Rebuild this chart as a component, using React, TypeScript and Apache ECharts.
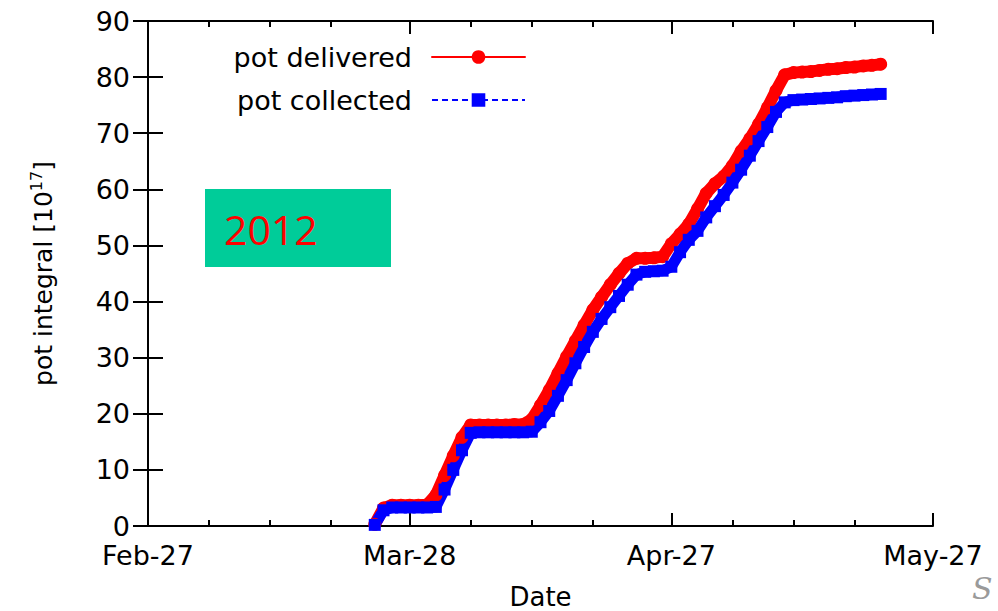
import React, { useEffect, useRef } from "react";
import * as echarts from "echarts";

// Days counted from Feb-27 (2012)
const dayOffsets = [
  26, 27, 28, 29, 30, 31, 32, 33, 34, 35, 36, 37, 38, 39, 40, 41, 42, 43, 44, 45,
  46, 47, 48, 49, 50, 51, 52, 53, 54, 55, 56, 57, 58, 59, 60, 61, 62, 63, 64, 65,
  66, 67, 68, 69, 70, 71, 72, 73, 74, 75, 76, 77, 78, 79, 80, 81, 82, 83, 84,
];

// Integrated protons on target, in units of 10^17
const delivered = [
  0.3, 3.2, 3.7, 3.7, 3.7, 3.7, 3.8, 5.5, 9.0, 12.5, 15.8, 18.0, 18.0, 18.0, 18.0, 18.0, 18.1, 18.1, 19.0, 21.5,
  24.2, 27.2, 30.2, 33.0, 35.8, 38.5, 40.8, 43.0, 45.0, 46.8, 47.7, 47.7, 47.8, 48.0, 50.3, 52.0, 53.8, 56.5, 59.3, 61.0,
  62.3, 64.2, 66.8, 69.0, 71.6, 74.5, 77.6, 80.4, 80.8, 80.9, 81.0, 81.2, 81.4, 81.5, 81.7, 81.8, 82.0, 82.1, 82.3,
];

const collected = [
  0.2, 2.8, 3.3, 3.3, 3.3, 3.3, 3.3, 3.4, 6.5, 10.0, 13.5, 16.6, 16.7, 16.7, 16.7, 16.7, 16.7, 16.7, 16.8, 18.5,
  20.5, 23.2, 26.0, 29.0, 31.9, 34.6, 36.9, 39.0, 41.0, 43.0, 44.8, 45.3, 45.4, 45.5, 46.2, 48.8, 51.0, 52.6, 55.0, 57.0,
  59.0, 61.2, 63.5, 66.0, 68.6, 71.1, 73.8, 75.5, 75.9, 76.0, 76.1, 76.2, 76.3, 76.4, 76.6, 76.7, 76.8, 76.9, 77.0,
];

const majorTickDays = [0, 30, 60, 90];
const majorTickLabels = ["Feb-27", "Mar-28", "Apr-27", "May-27"];
const minorTickDays = [7, 14, 21, 37, 44, 51, 67, 74, 81];

const FONT = "DejaVu Sans";
const INK = "#000000";
const RED = "#ff0000";
const BLUE = "#0000ff";

function App() {
  const ref = useRef<HTMLDivElement>(null);

  useEffect(() => {
    if (!ref.current) return;
    const chart = echarts.init(ref.current, undefined, { renderer: "svg" });

    const frameLine = { show: true, lineStyle: { color: INK, width: 2 } };
    const tickStyle = { color: INK, width: 2 };

    const majorX = (position: "top" | "bottom", withLabels: boolean) => ({
      type: "value",
      position,
      min: 0,
      max: 90,
      axisLine: frameLine,
      axisTick: { show: true, inside: true, length: 13, customValues: majorTickDays, lineStyle: tickStyle },
      axisLabel: withLabels
        ? {
            show: true,
            customValues: majorTickDays,
            formatter: (v: number) => majorTickLabels[majorTickDays.indexOf(v)] ?? "",
            fontSize: 27,
            lineHeight: 28,
            fontFamily: FONT,
            color: INK,
            margin: 15,
          }
        : { show: false },
      splitLine: { show: false },
    });

    const minorX = (position: "top" | "bottom") => ({
      type: "value",
      position,
      min: 0,
      max: 90,
      axisLine: { show: false },
      axisTick: { show: true, inside: true, length: 6, customValues: minorTickDays, lineStyle: tickStyle },
      axisLabel: { show: false },
      splitLine: { show: false },
    });

    const legendBase = {
      orient: "horizontal",
      align: "right",
      right: 472,
      padding: 0,
      itemWidth: 93,
      itemHeight: 17,
      selectedMode: false,
      textStyle: { fontSize: 27, fontFamily: FONT, color: INK, lineHeight: 28, padding: [0, 15, 0, 0] },
    };

    chart.setOption({
      animation: false,
      backgroundColor: "#ffffff",
      grid: {
        left: 148,
        top: 21,
        width: 785,
        height: 505,
        containLabel: false,
        outerBoundsMode: "none",
      },
      legend: [
        {
          ...legendBase,
          data: ["pot delivered"],
          top: 43,
          lineStyle: { color: RED, width: 2, type: "solid" },
        },
        {
          ...legendBase,
          data: ["pot collected"],
          top: 86,
          lineStyle: { color: BLUE, width: 2, type: [6, 4] },
        },
      ],
      xAxis: [
        {
          ...majorX("bottom", true),
          name: "Date",
          nameLocation: "middle",
          nameGap: 58,
          nameTextStyle: { fontSize: 26, fontFamily: FONT, color: INK },
        },
        minorX("bottom"),
        majorX("top", false),
        minorX("top"),
      ],
      yAxis: [
        {
          type: "value",
          position: "left",
          min: 0,
          max: 90,
          interval: 10,
          axisLine: frameLine,
          axisTick: { show: true, inside: true, length: 15, lineStyle: tickStyle },
          axisLabel: { fontSize: 27, lineHeight: 22, fontFamily: FONT, color: INK, margin: 18 },
          splitLine: { show: false },
          name: "pot integral [10{sup|17}]",
          nameLocation: "middle",
          nameRotate: 90,
          nameGap: 90,
          nameTextStyle: {
            fontSize: 25,
            fontFamily: FONT,
            color: INK,
            lineHeight: 30,
            rich: {
              sup: { fontSize: 16, fontFamily: FONT, color: INK, verticalAlign: "top", lineHeight: 16 },
            },
          },
        },
        {
          type: "value",
          position: "right",
          min: 0,
          max: 90,
          interval: 10,
          axisLine: frameLine,
          axisTick: { show: true, inside: true, length: 15, lineStyle: tickStyle },
          axisLabel: { show: false },
          splitLine: { show: false },
        },
      ],
      series: [
        {
          name: "pot delivered",
          type: "line",
          xAxisIndex: 0,
          yAxisIndex: 0,
          data: dayOffsets.map((d, i) => [d, delivered[i]]),
          symbol: "circle",
          symbolSize: 13,
          itemStyle: { color: RED },
          lineStyle: { color: RED, width: 12, join: "round", cap: "round" },
        },
        {
          name: "pot collected",
          type: "line",
          xAxisIndex: 0,
          yAxisIndex: 0,
          data: dayOffsets.map((d, i) => [d, collected[i]]),
          symbol: "rect",
          symbolSize: 12,
          itemStyle: { color: BLUE },
          lineStyle: { color: BLUE, width: 11, join: "round", cap: "butt" },
        },
      ],
      graphic: [
        {
          type: "rect",
          shape: { x: 205, y: 189, width: 186, height: 78 },
          style: { fill: "#00CC99" },
        },
        {
          type: "text",
          x: 224,
          y: 229,
          style: {
            text: "2012",
            fill: RED,
            fontSize: 41,
            fontFamily: "Open Sans",
            align: "left",
            verticalAlign: "middle",
          },
        },
        {
          type: "text",
          x: 972,
          y: 588,
          style: {
            text: "S",
            fill: "#9a9a9a",
            fontSize: 30,
            fontStyle: "italic",
            fontFamily: "DejaVu Serif",
            align: "left",
            verticalAlign: "middle",
          },
        },
      ],
    });

    return () => chart.dispose();
  }, []);

  return (
    <div
      ref={ref}
      style={{ position: "fixed", left: 0, top: 0, width: 998, height: 611, background: "#fff" }}
    />
  );
}

export default App;
